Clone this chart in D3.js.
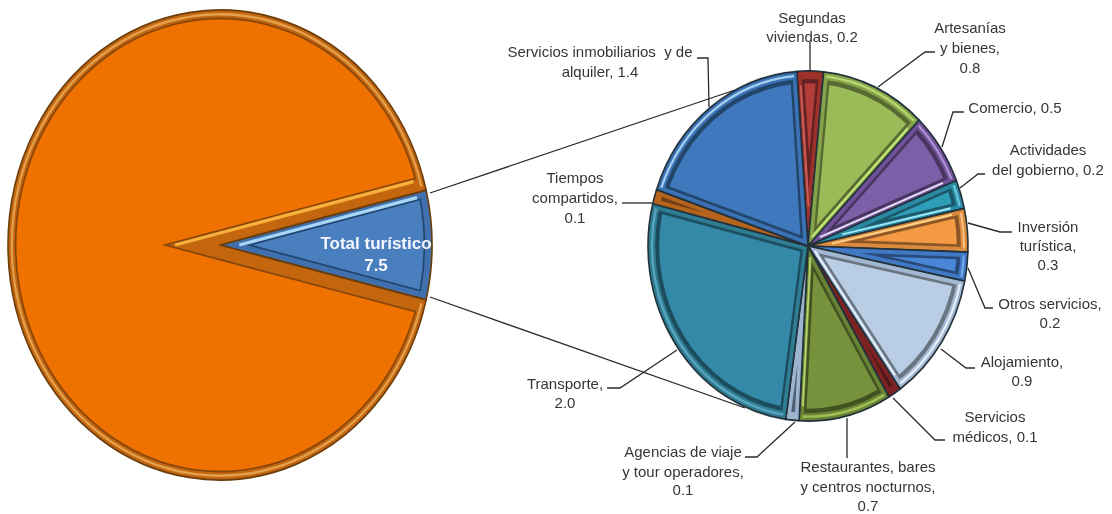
<!DOCTYPE html>
<html><head><meta charset="utf-8">
<script src="https://cdn.jsdelivr.net/npm/d3@7/dist/d3.min.js"></script>
<style>html,body{margin:0;background:#fff}svg{display:block}text{font-family:"Liberation Sans",Arial,sans-serif;white-space:pre}</style>
</head><body><svg id="c" width="1112" height="514"></svg>
<script>
// Data
const categories = ["Segundas viviendas","Artesanías y bienes","Comercio","Actividades del gobierno","Inversión turística","Otros servicios","Alojamiento","Servicios médicos","Restaurantes, bares y centros nocturnos","Agencias de viaje y tour operadores","Transporte","Tiempos compartidos","Servicios inmobiliarios y de alquiler"];
const values = [0.2,0.8,0.5,0.2,0.3,0.2,0.9,0.1,0.7,0.1,2.0,0.1,1.4];
const totalCategories = ["Total turístico","Resto"];
const totalValues = [7.5,92.5];

// Styles and layout
const fills  = ["#b33c38","#9bbb59","#7d5fa8","#2f9db8","#f49a45","#4a86d8","#b9cde5","#8f2b2b","#76923c","#8fa9c9","#3589a8","#c9701f","#3f78bd"];
const bands  = ["#9c302c","#84a348","#6f5199","#2a8aa3","#d98a3c","#3f78c4","#a2b8d2","#7c2424","#6a8436","#9db4cf","#2f7d92","#b7651c","#3a72b5"];
const streak = ["#c9605c","#c6e87c","#e8e0f5","#9fe6f5","#fbd58e",null,"#e6f1fb",null,"#b7d46f",null,null,null,null];
const streakSide = [0,1,1,1,0,0,1,0,1,0,0,0,1];
const arcGlow = [null,"#b6d56f","#a98fcf","#6cc6dc","#f8bd80","#6fa6ea","#e4eefb",null,"#a0bf55",null,"#5aa5bf",null,"#a8d0f0"];
const labelLines = [["Segundas","viviendas, 0.2"],["Artesanías","y bienes,","0.8"],["Comercio, 0.5"],["Actividades","del gobierno, 0.2"],["Inversión","turística,","0.3"],["Otros servicios,","0.2"],["Alojamiento,","0.9"],["Servicios","médicos, 0.1"],["Restaurantes, bares","y centros nocturnos,","0.7"],["Agencias de viaje","y tour operadores,","0.1"],["Transporte,","2.0"],["Tiempos","compartidos,","0.1"],["Servicios inmobiliarios  y de","alquiler, 1.4"]];
const labelX = [812,970,1015,1048,1048,1050,1022,995,868,683,565,575,600];
const labelY = [[18,37],[28,48,68],[108],[150,170],[227,246,265],[304,323],[362,381],[417,437],[467,487,506],[452,472,490],[384,403],[178,198,218],[52,72]];
const leaders = [
 [[810,42],[810,72]],
 [[878,87],[925,52],[935,52]],
 [[942,147],[953,112],[964,112]],
 [[960,188],[978,174],[985,174]],
 [[968,223],[1000,232],[1012,232]],
 [[968,268],[985,308],[993,308]],
 [[941,349],[966,368],[975,368]],
 [[893,398],[935,440],[945,440]],
 [[847,418],[847,458]],
 [[795,422],[757,457],[745,457]],
 [[677,350],[620,388],[607,388]],
 [[652,203],[622,203]],
 [[697,58],[708,58],[709,107]]
];
const connectors = [[[430,193],[735,90]],[[430,297],[745,408]]];

const svg = d3.select("#c");
const defs = svg.append("defs");
const soft = defs.append("filter").attr("id","soft").attr("x","-5%").attr("y","-5%").attr("width","110%").attr("height","110%");
soft.append("feGaussianBlur").attr("stdDeviation",0.7);
const softT = defs.append("filter").attr("id","softT");
softT.append("feGaussianBlur").attr("stdDeviation",0.4);
let clipN = 0;
const line = d3.line();

function drawPie(cx, cy, rx, ry, vals, startDeg, st) {
  const R = rx, k = ry / rx;
  const pie = d3.pie().sort(null).value(d => d).startAngle(startDeg*Math.PI/180).endAngle((startDeg+360)*Math.PI/180);
  const g = svg.append("g").attr("filter","url(#soft)").append("g").attr("transform",`translate(${cx},${cy}) scale(1,${k})`);
  const clip = r => { const id="cl"+(clipN++); defs.append("clipPath").attr("id",id).append("circle").attr("r",r); return `url(#${id})`; };
  pie(vals).forEach((s,i) => {
    const arc = d3.arc().innerRadius(0).outerRadius(R).startAngle(s.startAngle).endAngle(s.endAngle);
    g.append("path").attr("d",arc()).attr("fill",st.bands[i]).attr("stroke",st.rim).attr("stroke-width",st.rimW).attr("stroke-linejoin","round");
    const mid = (s.startAngle+s.endAngle)/2, half = (s.endAngle-s.startAngle)/2;
    if (st.glow[i]) {
      const ring = d3.arc().innerRadius(R*st.glowR-1.1).outerRadius(R*st.glowR+1.1).startAngle(s.startAngle+0.02).endAngle(s.endAngle-0.02);
      g.append("path").attr("d",ring()).attr("fill",st.glow[i]);
    }
    const big = d3.arc().innerRadius(0).outerRadius(R*3).startAngle(s.startAngle).endAngle(s.endAngle);
    const off = d => { const sh = d/Math.sin(half); return `translate(${Math.sin(mid)*sh},${-Math.cos(mid)*sh})`; };
    const d1 = st.d1[i]||st.d1[0];
    g.append("g").attr("clip-path",clip(R*st.r1)).append("path").attr("d",big()).attr("transform",off(d1)).attr("fill",st.dark[i]);
    g.append("g").attr("clip-path",clip(R*st.r2)).append("path").attr("d",big()).attr("transform",off(d1+st.darkW)).attr("fill",st.fills[i]);
    if (st.streak[i]) {
      const a = st.side[i] ? s.endAngle : s.startAngle;
      const sh = (d1-1.5)/Math.sin(half), ox = Math.sin(mid)*sh, oy = -Math.cos(mid)*sh;
      const L = R*st.r2 - sh*Math.cos(a-mid) - 2;
      g.append("path").attr("d",line([[ox,oy],[ox+Math.sin(a)*L,oy-Math.cos(a)*L]])).attr("stroke",st.streak[i]).attr("stroke-width",st.sw).attr("fill","none");
    }
  });
}

connectors.forEach(c => svg.append("path").attr("d",line(c)).attr("stroke","#2b2b2b").attr("stroke-width",1.3).attr("fill","none"));

drawPie(220,245,212,235,totalValues,76.5,{
  bands:["#3f6fae","#c4660f"],fills:["#4a7ebf","#ef7202"],dark:["#24466f","#8a4708"],streak:["#a8d6f5","#f7b03a"],side:[0,1],
  glow:[null,"#e3a04e"],glowR:0.982,rim:"#6b3d08",rimW:1.6,r1:0.968,r2:0.96,d1:[6,12],darkW:1.6,sw:3
});
drawPie(808,246,160,175,values,-4,{
  bands,fills,dark:fills.map(f=>d3.color(f).darker(1.6).formatHex()),streak,side:streakSide,
  glow:arcGlow,glowR:0.975,rim:"#22303a",rimW:1.6,r1:0.955,r2:0.93,d1:[4.5],darkW:2.4,sw:1.8
});

leaders.forEach(c => svg.append("path").attr("d",line(c)).attr("stroke","#2b2b2b").attr("stroke-width",1.3).attr("fill","none"));

const labels = svg.append("g").attr("filter","url(#softT)").attr("font-size",15).attr("fill","#363636").attr("text-anchor","middle");
labelLines.forEach((ls,i) => ls.forEach((t,j) => labels.append("text").attr("x",labelX[i]).attr("y",labelY[i][j]+5).text(t)));
const tl = svg.append("g").attr("filter","url(#softT)").attr("font-size",17).attr("font-weight","bold").attr("fill","#f4f8fc").attr("text-anchor","middle");
tl.append("text").attr("x",376).attr("y",249).text(totalCategories[0]);
tl.append("text").attr("x",376).attr("y",271).text(totalValues[0].toFixed(1));
</script></body></html>
